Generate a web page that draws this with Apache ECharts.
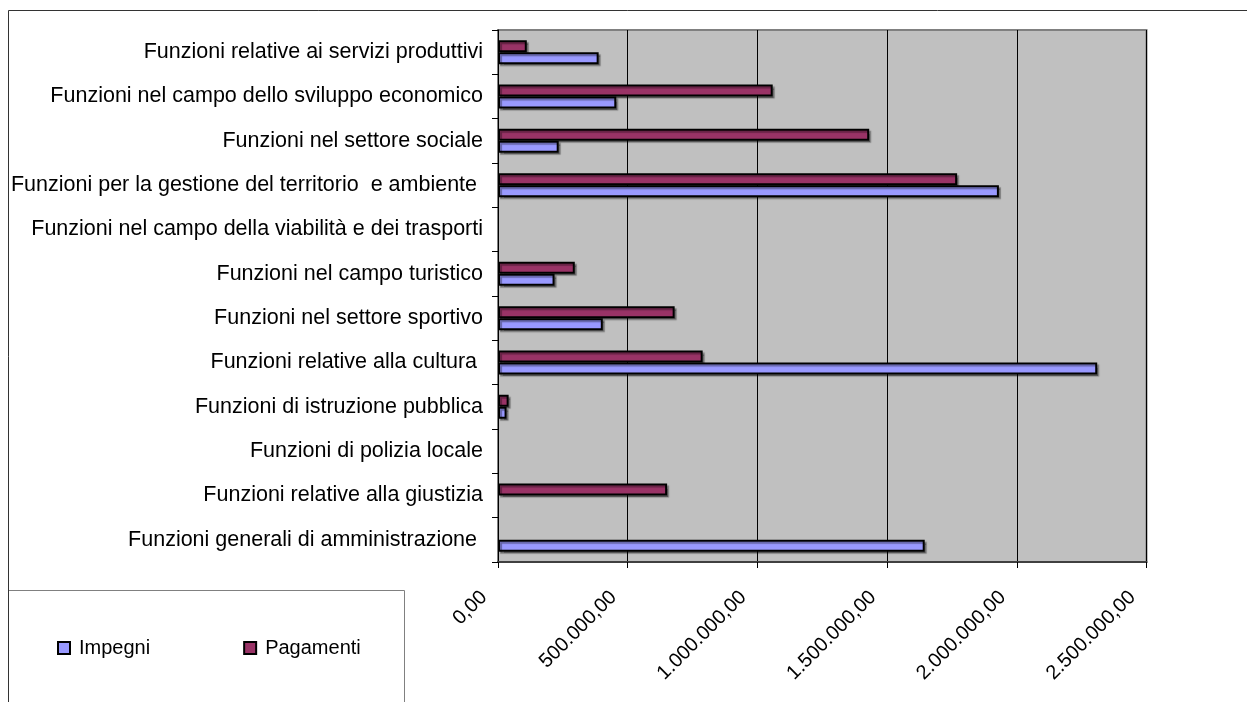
<!DOCTYPE html>
<html>
<head>
<meta charset="utf-8">
<title>Impegni e Pagamenti per funzione</title>
<script src="https://cdn.jsdelivr.net/npm/echarts@6/dist/echarts.min.js"></script>
<style>
  html, body { margin: 0; padding: 0; background: #ffffff; }
  #chart { width: 1247px; height: 702px; }
</style>
</head>
<body>
<div id="chart"></div>
<script>
// Categories listed from the bottom of the axis upwards
const categories = [
  'Funzioni generali di amministrazione ',
  'Funzioni relative alla giustizia',
  'Funzioni di polizia locale',
  'Funzioni di istruzione pubblica',
  'Funzioni relative alla cultura ',
  'Funzioni nel settore sportivo',
  'Funzioni nel campo turistico',
  'Funzioni nel campo della viabilità e dei trasporti',
  'Funzioni per la gestione del territorio  e ambiente ',
  'Funzioni nel settore sociale',
  'Funzioni nel campo dello sviluppo economico',
  'Funzioni relative ai servizi produttivi'
];

const impegni = [1645000, 0, 0, 33000, 2310000, 404000, 218000, 0, 1931000, 234000, 456000, 388000];
const pagamenti = [0, 652000, 0, 41000, 789000, 681000, 296000, 0, 1770000, 1431000, 1059000, 111000];

const seriesNames = ['Impegni', 'Pagamenti'];
const xTicks = [0, 500000, 1000000, 1500000, 2000000, 2500000];

const FONT = '"Liberation Sans", Arial, sans-serif';

function formatIt(v) {
  const s = Math.round(v).toString().replace(/\B(?=(\d{3})+(?!\d))/g, '.');
  return s + ',00';
}

// empty amounts leave no bar at all
const toBars = (arr) => arr.map(v => (v === 0 ? '-' : v));

const chart = echarts.init(document.getElementById('chart'), null, { renderer: 'canvas' });

const barStyle = (color) => ({
  color: color,
  borderColor: '#000000',
  borderWidth: 2,
  shadowColor: 'rgba(0,0,0,0.35)',
  shadowOffsetX: 2,
  shadowOffsetY: 2,
  shadowBlur: 1
});

chart.setOption({
  animation: false,
  backgroundColor: '#ffffff',
  textStyle: { fontFamily: FONT },
  graphic: [
    {
      type: 'polyline',
      shape: { points: [[8.5, 702], [8.5, 10.5], [1247, 10.5]] },
      style: { stroke: '#333333', lineWidth: 1, fill: null },
      silent: true
    },
    {
      type: 'rect',
      shape: { x: 8.5, y: 590.5, width: 396, height: 140 },
      style: { stroke: '#808080', lineWidth: 1, fill: '#ffffff' },
      silent: true,
      z: -1
    }
  ],
  legend: {
    left: 57,
    top: 638,
    padding: 0,
    itemWidth: 12,
    itemHeight: 12,
    itemGap: 93,
    icon: 'rect',
    data: seriesNames,
    textStyle: { fontFamily: FONT, fontSize: 20, color: '#000000', padding: [0, 0, 0, 4] }
  },
  grid: {
    left: 498,
    right: 100.5,
    top: 30,
    bottom: 140,
    show: true,
    backgroundColor: '#C0C0C0',
    borderColor: '#808080',
    borderWidth: 2,
    containLabel: false
  },
  xAxis: {
    type: 'value',
    min: xTicks[0],
    max: xTicks[xTicks.length - 1],
    interval: xTicks[1] - xTicks[0],
    axisLine: { show: true, lineStyle: { color: '#404040', width: 2 } },
    axisTick: { show: true, length: 6, lineStyle: { color: '#000000', width: 1 } },
    splitLine: { show: true, lineStyle: { color: '#000000', width: 1 } },
    axisLabel: {
      rotate: 45,
      margin: 18,
      padding: [0, 20, 0, 0],
      fontFamily: FONT,
      fontSize: 20,
      color: '#000000',
      formatter: formatIt
    }
  },
  yAxis: {
    type: 'category',
    data: categories,
    axisLine: { show: true, lineStyle: { color: '#000000', width: 1 } },
    axisTick: { show: true, length: 6, inside: false, lineStyle: { color: '#000000', width: 1 } },
    splitLine: { show: false },
    axisLabel: {
      margin: 15,
      fontFamily: FONT,
      fontSize: 21.5,
      color: '#000000'
    }
  },
  // Pagamenti is listed first so that it sits above Impegni in each row
  series: [
    {
      name: seriesNames[1],
      type: 'bar',
      data: toBars(pagamenti),
      barWidth: 12,
      barGap: '0%',
      itemStyle: barStyle('#993366')
    },
    {
      name: seriesNames[0],
      type: 'bar',
      data: toBars(impegni),
      barWidth: 12,
      barGap: '0%',
      itemStyle: barStyle('#9999FF')
    }
  ]
});
</script>
</body>
</html>
